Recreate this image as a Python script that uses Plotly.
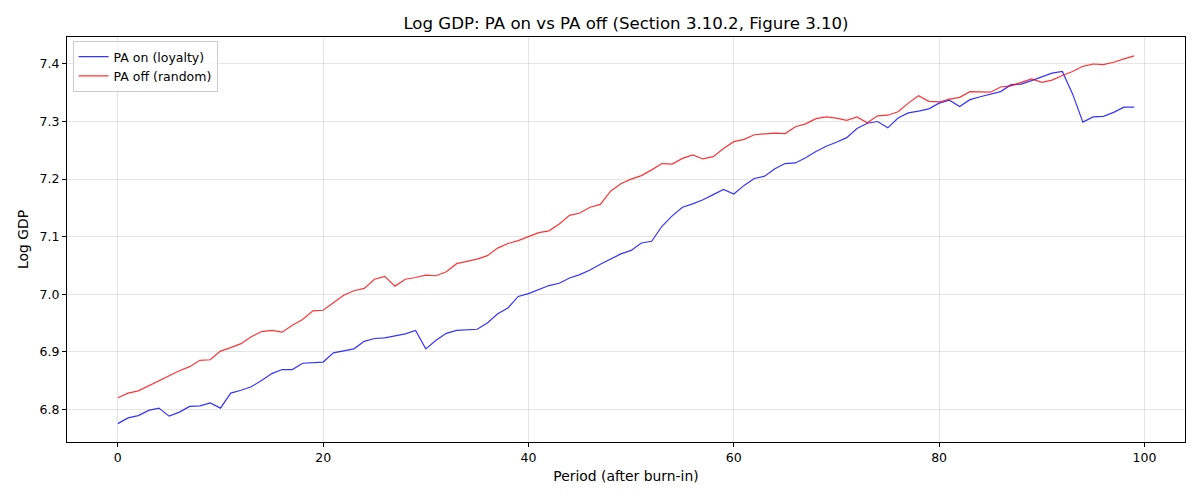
import plotly.graph_objects as go

periods = list(range(100))

pa_on = [6.775, 6.785, 6.789, 6.798, 6.802, 6.788, 6.795, 6.805, 6.806, 6.811,
         6.802, 6.828, 6.833, 6.839, 6.850, 6.862, 6.869, 6.869, 6.880, 6.881,
         6.882, 6.898, 6.902, 6.905, 6.918, 6.923, 6.924, 6.927, 6.931, 6.937,
         6.905, 6.920, 6.932, 6.937, 6.938, 6.939, 6.950, 6.966, 6.976, 6.996,
         7.001, 7.008, 7.015, 7.019, 7.028, 7.034, 7.042, 7.052, 7.061, 7.070,
         7.076, 7.089, 7.092, 7.118, 7.136, 7.151, 7.157, 7.164, 7.173, 7.182,
         7.174, 7.189, 7.201, 7.205, 7.218, 7.227, 7.228, 7.237, 7.248, 7.257,
         7.264, 7.272, 7.288, 7.297, 7.300, 7.289, 7.306, 7.315, 7.318, 7.322,
         7.332, 7.337, 7.326, 7.338, 7.343, 7.347, 7.352, 7.364, 7.365, 7.371,
         7.378, 7.384, 7.387, 7.348, 7.299, 7.308, 7.309, 7.316, 7.325, 7.325]

pa_off = [6.820, 6.828, 6.832, 6.841, 6.849, 6.858, 6.867, 6.874, 6.885, 6.886,
          6.901, 6.907, 6.914, 6.926, 6.935, 6.937, 6.934, 6.946, 6.956, 6.971,
          6.972, 6.985, 6.998, 7.006, 7.010, 7.026, 7.031, 7.014, 7.026, 7.029,
          7.033, 7.032, 7.039, 7.053, 7.057, 7.061, 7.067, 7.080, 7.088, 7.093,
          7.100, 7.107, 7.110, 7.122, 7.137, 7.141, 7.151, 7.156, 7.179, 7.192,
          7.200, 7.206, 7.216, 7.227, 7.226, 7.236, 7.242, 7.235, 7.239, 7.253,
          7.265, 7.269, 7.277, 7.278, 7.280, 7.279, 7.291, 7.296, 7.305, 7.308,
          7.306, 7.302, 7.308, 7.298, 7.310, 7.311, 7.317, 7.332, 7.345, 7.335,
          7.334, 7.339, 7.342, 7.352, 7.352, 7.351, 7.360, 7.362, 7.368, 7.374,
          7.368, 7.372, 7.380, 7.387, 7.396, 7.400, 7.399, 7.403, 7.409, 7.414]

x_ticks = [0, 20, 40, 60, 80, 100]
y_ticks = [6.8, 6.9, 7.0, 7.1, 7.2, 7.3, 7.4]

fig = go.Figure()
fig.add_trace(go.Scatter(x=periods, y=pa_on, mode="lines", name="PA on (loyalty)",
                         line=dict(color="rgba(0,0,255,0.8)", width=1.2)))
fig.add_trace(go.Scatter(x=periods, y=pa_off, mode="lines", name="PA off (random)",
                         line=dict(color="rgba(255,0,0,0.8)", width=1.2)))

font = "DejaVu Sans"
axis_common = dict(showline=True, linecolor="black", linewidth=1, mirror=True,
                   ticks="outside", ticklen=4, tickcolor="black",
                   showgrid=True, gridcolor="rgba(0,0,0,0.1)", gridwidth=1,
                   zeroline=False, tickfont=dict(family=font, size=12.5, color="black"))

fig.update_layout(
    width=1200, height=500,
    paper_bgcolor="white", plot_bgcolor="white",
    margin=dict(l=67, r=15, t=37, b=58),
    title=dict(text="Log GDP: PA on vs PA off (Section 3.10.2, Figure 3.10)",
               x=0.5, xref="paper", y=1 - 23/500, yanchor="middle",
               font=dict(family=font, size=16.6, color="black")),
    xaxis=dict(range=[-4.95, 103.95], tickvals=x_ticks,
               title=dict(text="Period (after burn-in)", font=dict(family=font, size=13.9, color="black"), standoff=7),
               **axis_common),
    yaxis=dict(range=[6.7431, 7.4469], tickvals=y_ticks, tickformat=".1f",
               title=dict(text="Log GDP", font=dict(family=font, size=13.9, color="black"), standoff=7),
               **axis_common),
    legend=dict(x=0.005, y=0.99, xanchor="left", yanchor="top",
                bgcolor="rgba(255,255,255,0.8)", bordercolor="#cccccc", borderwidth=1,
                font=dict(family=font, size=12.5, color="black"), tracegroupgap=0,
                itemwidth=30),
    showlegend=True,
)

fig.write_html("out.html")
